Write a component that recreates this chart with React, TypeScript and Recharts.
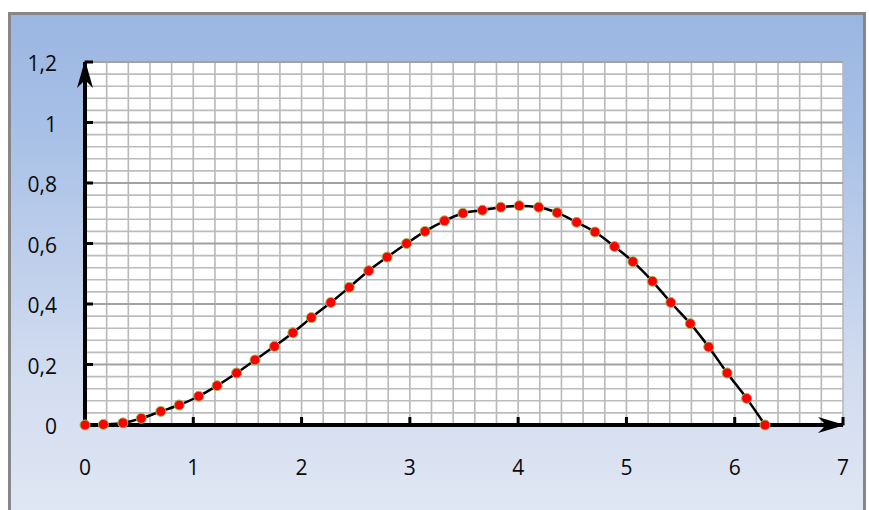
import { LineChart, Line, XAxis, YAxis, ReferenceLine, ReferenceArea, ReferenceDot } from 'recharts'

// points (x in steps of ~10 degrees)
const xValues = [
  0, 0.17, 0.35, 0.52, 0.7, 0.87, 1.05, 1.22, 1.4, 1.57, 1.75, 1.92, 2.09, 2.27, 2.44, 2.62, 2.79, 2.97, 3.14,
  3.32, 3.49, 3.67, 3.84, 4.01, 4.19, 4.36, 4.54, 4.71, 4.89, 5.06, 5.24, 5.41, 5.59, 5.76, 5.93, 6.11, 6.28,
]
const yValues = [
  0, 0.002, 0.007, 0.022, 0.045, 0.066, 0.095, 0.13, 0.172, 0.215, 0.26, 0.305, 0.355, 0.405, 0.455, 0.51, 0.555, 0.6, 0.64,
  0.675, 0.7, 0.71, 0.72, 0.725, 0.72, 0.702, 0.67, 0.638, 0.59, 0.54, 0.475, 0.405, 0.335, 0.258, 0.172, 0.088, 0,
]
const xTicks = [0, 1, 2, 3, 4, 5, 6, 7]
const yTicks = [0, 0.2, 0.4, 0.6, 0.8, 1, 1.2]
const xGrid = Array.from({ length: 35 }, (_, i) => +((i + 1) * 0.2).toFixed(2))
const yGrid = Array.from({ length: 30 }, (_, i) => +((i + 1) * 0.04).toFixed(2))

const data = xValues.map((x, i) => ({ x, y: yValues[i] }))

const FONT = '"Open Sans", "DejaVu Sans", sans-serif'
const fmt = (v: number) => String(v).replace('.', ',')

const XTick = ({ x, y, payload }: any) => (
  <g>
    {payload.value !== 0 && <line x1={x} x2={x} y1={y} y2={y - 8} stroke="#000" strokeWidth={3} />}
    <text x={x} y={y + 50} textAnchor="middle" fontSize={21} fontFamily={FONT} fill="#0a0a0a">
      {fmt(payload.value)}
    </text>
  </g>
)

const YTick = ({ x, y, payload }: any) => (
  <g>
    {payload.value !== 0 && <line x1={x} x2={x + 8} y1={y} y2={y} stroke="#000" strokeWidth={3} />}
    <text x={x - 28} y={y + 9} textAnchor="end" fontSize={21} fontFamily={FONT} fill="#0a0a0a">
      {fmt(payload.value)}
    </text>
  </g>
)

const isMajorY = (v: number) => Math.abs(v / 0.2 - Math.round(v / 0.2)) < 1e-6

export default function App() {
  return (
    <div style={{ position: 'absolute', left: 0, top: 0, width: 869, height: 510, overflow: 'hidden', background: '#fff' }}>
      <div
        style={{
          position: 'absolute', left: 8, top: 12, width: 858, height: 530, boxSizing: 'border-box',
          border: '3px solid #878787',
          background: 'linear-gradient(#9bb6e2 0%, #a6bfe6 20%, #d3ddf0 70%, #e2e8f4 100%)',
        }}
      />
      <div style={{ position: 'absolute', left: 0, top: 0 }}>
        <LineChart width={869} height={510} data={data} margin={{ top: 62, right: 26, bottom: 25, left: 25 }}>
          <ReferenceArea x1={0} x2={7} y1={0} y2={1.2} fill="#fff" fillOpacity={1} stroke="none" />
          {xGrid.map(v => (
            <ReferenceLine key={'vx' + v} x={v} stroke="#b8b8b8" strokeWidth={1.6} />
          ))}
          {yGrid.map(v => (
            <ReferenceLine
              key={'hy' + v}
              y={v}
              stroke={isMajorY(v) ? '#a2a2a2' : '#bcbcbc'}
              strokeWidth={isMajorY(v) ? 2 : 1.6}
            />
          ))}
          <XAxis
            dataKey="x"
            type="number"
            domain={[0, 7]}
            ticks={xTicks}
            interval={0}
            height={60}
            tickSize={0}
            tickMargin={0}
            tickLine={false}
            axisLine={{ stroke: '#000', strokeWidth: 4 }}
            tick={<XTick />}
          />
          <YAxis
            type="number"
            domain={[0, 1.2]}
            ticks={yTicks}
            interval={0}
            width={60}
            tickSize={0}
            tickMargin={0}
            tickLine={false}
            axisLine={{ stroke: '#000', strokeWidth: 4 }}
            tick={<YTick />}
          />
          <Line
            dataKey="y"
            type="monotone"
            stroke="#000"
            strokeWidth={2.5}
            dot={{ r: 5, fill: '#ff0000', stroke: '#9bbb59', strokeWidth: 1 }}
            isAnimationActive={false}
          />
          <ReferenceDot
            x={7}
            y={0}
            ifOverflow="visible"
            shape={(p: any) => (
              <path
                d={`M${p.cx + 2},${p.cy} L${p.cx - 25},${p.cy - 8} L${p.cx - 17},${p.cy} L${p.cx - 25},${p.cy + 8} Z`}
                fill="#000"
              />
            )}
          />
          <ReferenceDot
            x={0}
            y={1.2}
            ifOverflow="visible"
            shape={(p: any) => (
              <path
                d={`M${p.cx},${p.cy - 2} L${p.cx - 8},${p.cy + 26} L${p.cx},${p.cy + 18} L${p.cx + 8},${p.cy + 26} Z`}
                fill="#000"
              />
            )}
          />
        </LineChart>
      </div>
    </div>
  )
}
